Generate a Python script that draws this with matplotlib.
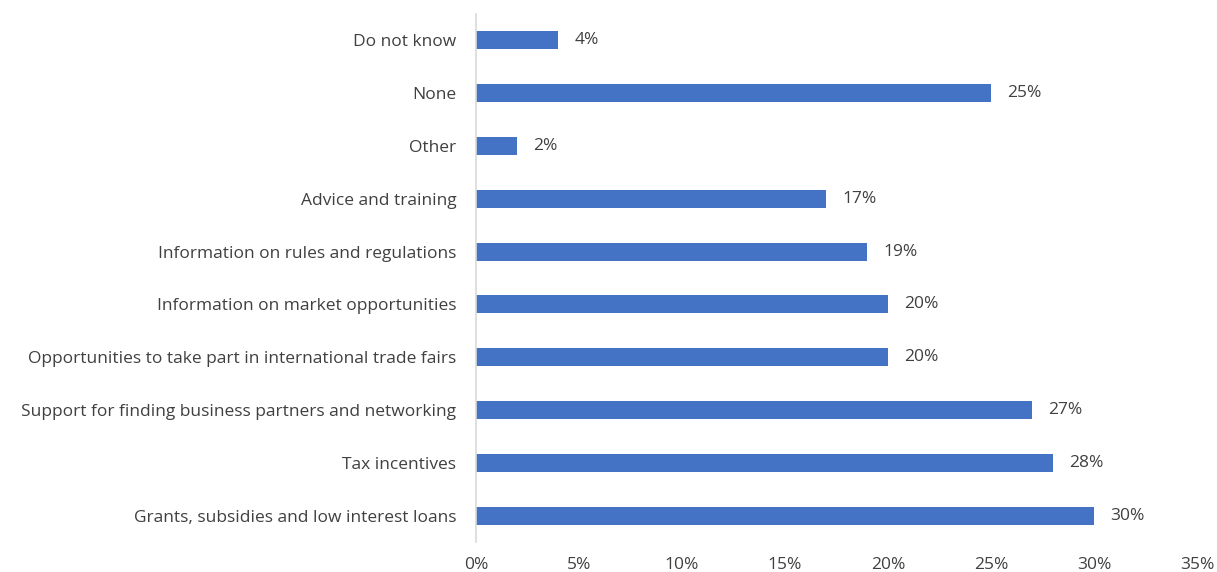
import numpy as np
import matplotlib
matplotlib.use("Agg")
from matplotlib import pyplot as plt
from matplotlib.ticker import FuncFormatter

categories = ["Grants, subsidies and low interest loans",
              "Tax incentives",
              "Support for finding business partners and networking",
              "Opportunities to take part in international trade fairs",
              "Information on market opportunities",
              "Information on rules and regulations",
              "Advice and training",
              "Other",
              "None",
              "Do not know"]
values = [30, 28, 27, 20, 20, 19, 17, 2, 25, 4]
xticks = [0, 5, 10, 15, 20, 25, 30, 35]

plt.rcParams['font.family'] = ['Open Sans', 'DejaVu Sans']

fig = plt.figure(figsize=(12.17, 5.72), dpi=100)
ax = fig.add_axes([0.391, 0.0524, 0.5925, 0.9231])

y = np.arange(len(categories))
ax.barh(y, values, height=0.34, color='#4472C4')
for yi, v in zip(y, values):
    ax.text(v + 0.8, yi, '%d%%' % v, va='center', ha='left', fontsize=12.5, color='#404040')

ax.set_xlim(0, 35)
ax.set_ylim(-0.5, len(categories) - 0.5)
ax.set_xticks(xticks)
ax.xaxis.set_major_formatter(FuncFormatter(lambda x, p: '%d%%' % x))
ax.set_yticks(y)
ax.set_yticklabels(categories)
ax.tick_params(axis='both', length=0, labelsize=12.5, colors='#404040')
ax.tick_params(axis='y', pad=14)
ax.tick_params(axis='x', pad=11)

for s in ['top', 'right', 'bottom']:
    ax.spines[s].set_visible(False)
ax.spines['left'].set_color('#D9D9D9')
ax.spines['left'].set_linewidth(1.2)

fig.savefig('out.png', dpi=100)
